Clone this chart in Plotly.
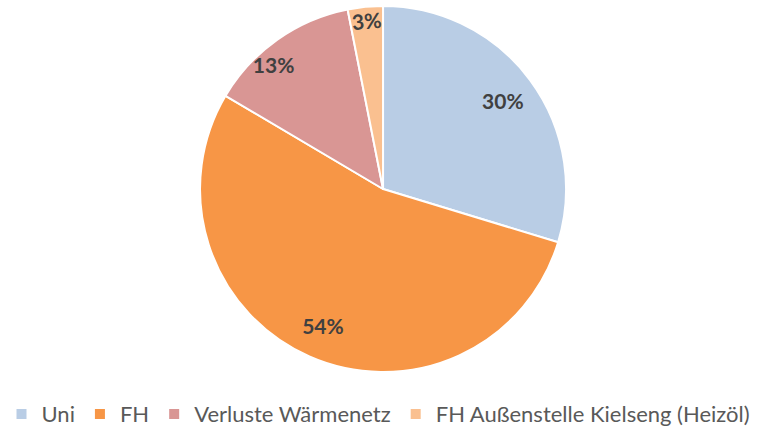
import plotly.graph_objects as go

categories = ["Uni", "FH", "Verluste Wärmenetz", "FH Außenstelle Kielseng (Heizöl)"]
values = [29.7, 53.8, 13.4, 3.1]
colors = ["#B9CDE5", "#F79646", "#D99694", "#FAC090"]

domain = dict(x=[0.012, 1], y=[0, 1])
# smaller concentric domain (same centre) for a label that sits near the rim
small_domain = dict(x=[0.306, 0.706], y=[0.11, 0.89])
pct = "%{percent:.0%}"
label_font = dict(family="Lato", size=21, color="#404040", weight="bold")
clear = ["rgba(0,0,0,0)"] * len(values)

fig = go.Figure()
# filled pie with legend
fig.add_trace(go.Pie(
    labels=categories, values=values, sort=False,
    direction="clockwise", rotation=0,
    marker=dict(colors=colors, line=dict(color="white", width=2)),
    textinfo="none", domain=domain, hoverinfo="label+percent",
))
# transparent ring carrying labels of the large slices
fig.add_trace(go.Pie(
    labels=categories, values=values, sort=False,
    direction="clockwise", rotation=0, hole=0.63,
    marker=dict(colors=clear, line=dict(width=0)),
    texttemplate=[pct, pct, "", ""],
    textposition="inside", insidetextorientation="horizontal",
    textfont=label_font, domain=domain, showlegend=False, hoverinfo="skip",
))
# transparent full pie carrying the label of the thinnest slice
fig.add_trace(go.Pie(
    labels=categories, values=values, sort=False,
    direction="clockwise", rotation=0,
    marker=dict(colors=clear, line=dict(width=0)),
    texttemplate=["", "", "", pct],
    textposition="inside", insidetextorientation="tangential",
    textfont=label_font, domain=domain, showlegend=False, hoverinfo="skip",
))
# smaller transparent pie: label of the Verluste slice placed just outside it
fig.add_trace(go.Pie(
    labels=categories, values=values, sort=False,
    direction="clockwise", rotation=0,
    marker=dict(colors=clear, line=dict(width=0)),
    texttemplate=["", "", pct, ""],
    textposition="outside",
    textfont=label_font, domain=small_domain, showlegend=False, hoverinfo="skip",
))

fig.update_layout(
    width=757, height=427,
    margin=dict(l=0, r=0, t=6, b=55, autoexpand=False),
    paper_bgcolor="white",
    plot_bgcolor="white",
    showlegend=True,
    legend=dict(
        orientation="h",
        x=0.5, xanchor="center",
        y=-0.115, yanchor="middle",
        font=dict(family="Lato", size=22, color="#595959"),
        itemwidth=30,
        traceorder="normal",
    ),
)

fig.write_html("out.html", config={"displayModeBar": False},
               post_script="document.body.style.margin='0';")
